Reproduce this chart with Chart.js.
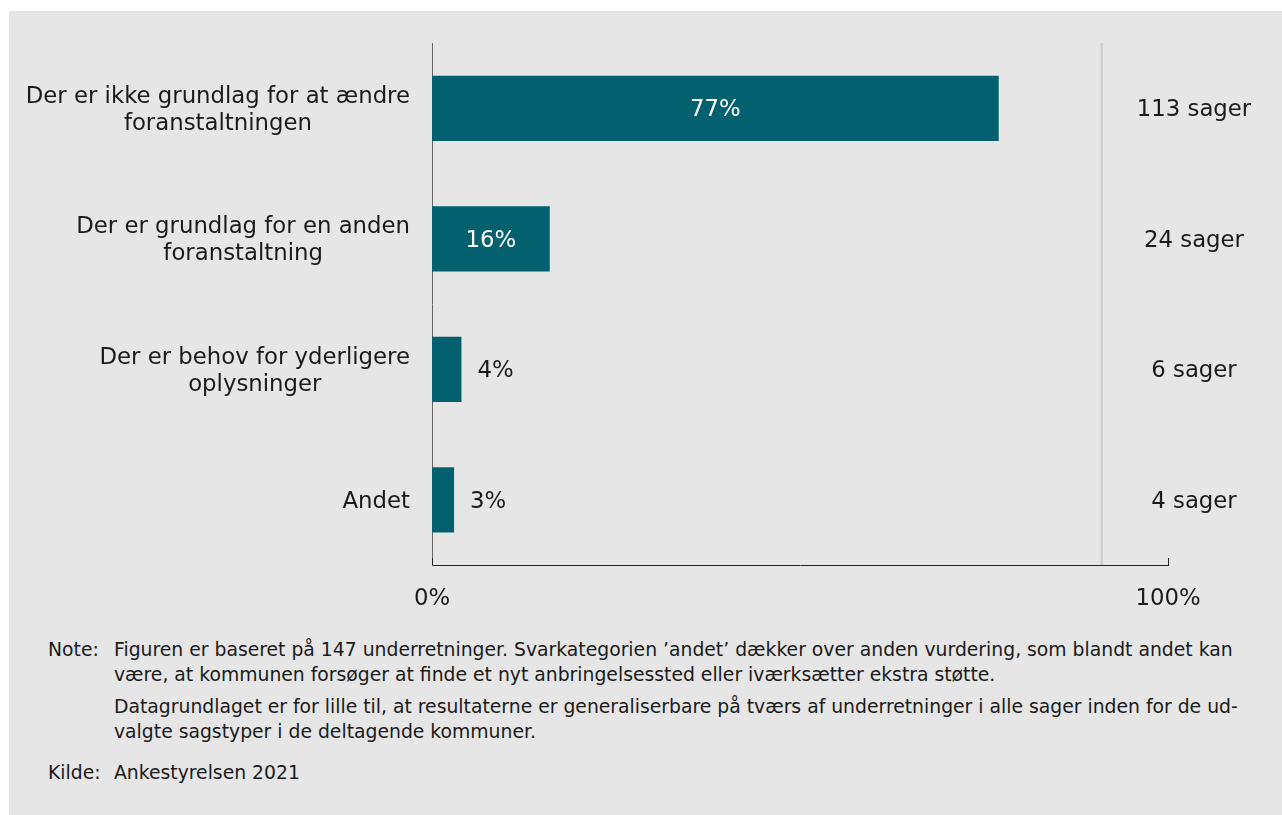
<!DOCTYPE html>
<html lang="da">
<head>
<meta charset="utf-8">
<script src="https://cdn.jsdelivr.net/npm/chart.js@4.4.1/dist/chart.umd.min.js"></script>
<style>
  html, body { margin: 0; padding: 0; background: #fff; }
  body { width: 1282px; height: 815px; position: relative; overflow: hidden; font-family: "DejaVu Sans", Verdana, sans-serif; }
  #panel { position: absolute; left: 9px; top: 11px; right: 0; bottom: 0; background: #e6e6e6; }
  #chart { position: absolute; left: 0; top: 0; }
  .notes { position: absolute; left: 48px; top: 637px; font-size: 18.8px; line-height: 25px; color: #1a1a1a; white-space: nowrap; }
  .row { display: flex; }
  .lbl { width: 66px; flex: none; }
  .gap { height: 16px; }
</style>
</head>
<body>
<div id="panel"></div>
<canvas id="chart" width="1282" height="620"></canvas>
<div class="notes">
  <div class="row"><div class="lbl">Note:</div><div>Figuren er baseret på 147 underretninger. Svarkategorien ’andet’ dækker over anden vurdering, som blandt andet kan<br>være, at kommunen forsøger at finde et nyt anbringelsessted eller iværksætter ekstra støtte.<div style="height:7px"></div>Datagrundlaget er for lille til, at resultaterne er generaliserbare på tværs af underretninger i alle sager inden for de ud-<br>valgte sagstyper i de deltagende kommuner.</div></div>
  <div class="gap"></div>
  <div class="row"><div class="lbl">Kilde:</div><div>Ankestyrelsen 2021</div></div>
</div>
<script>
const categories = [
  ["Der er ikke grundlag for at ændre", "foranstaltningen"],
  ["Der er grundlag for en anden", "foranstaltning"],
  ["Der er behov for yderligere", "oplysninger"],
  ["Andet"],
];
const shares = [77, 16, 4, 3];
const caseCounts = [113, 24, 6, 4];
const xTicks = [0, 100];

const FONT = '"DejaVu Sans", Verdana, sans-serif';
const TEXT = "#1a1a1a";
const BAR = "#02606f";
const SEPARATOR_AT = 91;
const SIZE = 22.8;
const DY = 2; // nudge for middle baseline

// labels, values, case counts, separator and small tick marks
const extras = {
  id: "extras",
  beforeDatasetsDraw(chart) {
    const { ctx, chartArea, scales } = chart;
    const sx = scales.x.getPixelForValue(SEPARATOR_AT);
    ctx.save();
    ctx.strokeStyle = "#c9c9c9";
    ctx.lineWidth = 2;
    ctx.beginPath();
    ctx.moveTo(sx, chartArea.top);
    ctx.lineTo(sx, chartArea.bottom);
    ctx.stroke();
    ctx.restore();
  },
  afterDraw(chart) {
    const { ctx, chartArea, scales } = chart;
    const x = scales.x, y = scales.y;
    ctx.save();
    ctx.font = SIZE + "px " + FONT;
    ctx.textBaseline = "middle";

    // y category labels, lines centred within each block, block right-aligned
    categories.forEach((lines, i) => {
      const cy = y.getPixelForValue(i) + DY;
      const w = Math.max(...lines.map((l) => ctx.measureText(l).width));
      const cx = chartArea.left - 22 - w / 2;
      const lh = 27;
      const start = cy - ((lines.length - 1) * lh) / 2;
      ctx.fillStyle = TEXT;
      ctx.textAlign = "center";
      lines.forEach((l, j) => ctx.fillText(l, cx, start + j * lh));
    });

    // value labels
    const meta = chart.getDatasetMeta(0);
    shares.forEach((v, i) => {
      const bar = meta.data[i];
      if (v >= 10) {
        ctx.fillStyle = "#fff";
        ctx.textAlign = "center";
        ctx.fillText(v + "%", (x.getPixelForValue(0) + bar.x) / 2, bar.y + DY);
      } else {
        ctx.fillStyle = TEXT;
        ctx.textAlign = "left";
        ctx.fillText(v + "%", bar.x + 16, bar.y + DY);
      }
    });

    // number of cases on the right
    ctx.fillStyle = TEXT;
    ctx.textAlign = "center";
    caseCounts.forEach((n, i) => {
      ctx.fillText(n + " sager", chartArea.right + 26, y.getPixelForValue(i) + DY);
    });

    // small tick marks pointing up from the x axis
    ctx.strokeStyle = "#222";
    ctx.lineWidth = 1;
    xTicks.forEach((t) => {
      const px = Math.round(x.getPixelForValue(t)) + 0.5;
      ctx.beginPath();
      ctx.moveTo(px, chartArea.bottom);
      ctx.lineTo(px, chartArea.bottom - 7);
      ctx.stroke();
    });
    ctx.restore();
  },
};

new Chart(document.getElementById("chart"), {
  type: "bar",
  data: {
    labels: categories,
    datasets: [
      {
        data: shares,
        backgroundColor: BAR,
        borderWidth: 0,
        categoryPercentage: 1,
        barPercentage: 0.5,
      },
    ],
  },
  options: {
    indexAxis: "y",
    responsive: false,
    animation: false,
    layout: { padding: { left: 0, right: 114, top: 43, bottom: 0 } },
    plugins: { legend: { display: false }, tooltip: { enabled: false } },
    scales: {
      x: {
        min: 0,
        max: 100,
        afterBuildTicks: (s) => { s.ticks = xTicks.map((v) => ({ value: v })); },
        afterFit: (s) => { s.height = 55; },
        grid: { display: false },
        border: { display: true, color: "#222", width: 1 },
        ticks: {
          padding: 12,
          color: TEXT,
          font: { family: FONT, size: SIZE },
          maxRotation: 0,
          callback: (v) => v + "%",
        },
      },
      y: {
        afterFit: (s) => { s.width = 432; },
        grid: { display: false },
        border: { display: true, color: "#666", width: 1 },
        ticks: { display: false },
      },
    },
  },
  plugins: [extras],
});
</script>
</body>
</html>
